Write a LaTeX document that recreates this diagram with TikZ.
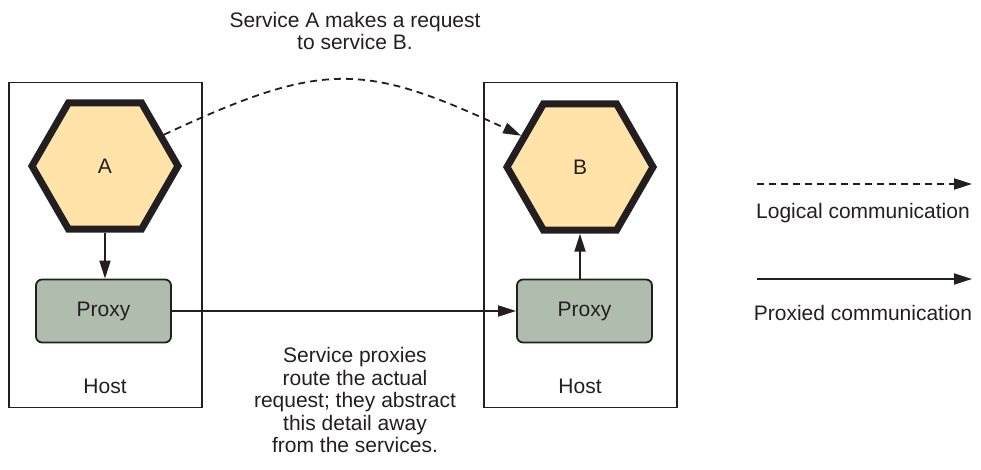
\documentclass[tikz,border=0pt]{standalone}
\usepackage{fontspec}
\setmainfont{Liberation Sans}
\usetikzlibrary{shapes.geometric, arrows.meta, positioning}

\definecolor{hexfill}{HTML}{FFE3A8}
\definecolor{proxyfill}{HTML}{B0BDAE}
\definecolor{ink}{HTML}{231F20}

\begin{document}
\begin{tikzpicture}[
  x=1pt, y=1pt,
  font=\fontsize{21}{22.5}\selectfont,
  >={Triangle[length=18pt, width=11pt]},
  proxied/.style={->, line width=1.8pt, draw=ink},
  logical/.style={->, line width=1.8pt, draw=ink, dash pattern=on 7pt off 5pt},
  host/.style={draw=ink, line width=1.8pt, minimum width=193pt, minimum height=325pt, inner sep=0pt},
  service/.style={regular polygon, regular polygon sides=6, draw=ink, fill=hexfill,
    line width=7pt, minimum size=146pt, inner sep=0pt, text=ink},
  proxy/.style={draw=ink, fill=proxyfill, rounded corners=6pt, line width=1.8pt,
    minimum width=135pt, minimum height=63pt, inner sep=0pt, text=ink},
  note/.style={align=center, text=ink, inner sep=0pt}
]
  \useasboundingbox (0,0) rectangle (981,-470);

  % --- Hôtes ---
  \node[host] (hostA) at (105.5,-245) {};
  \node[host] (hostB) at (580.5,-245) {};
  \node[note] (hostAlbl) at (105,-386) {Host};
  \node[note] (hostBlbl) at (580,-386) {Host};

  % --- Services ---
  \node[service] (A) at (105,-166) {A};
  \node[service] (B) at (580,-167) {B};

  % --- Proxies ---
  \node[proxy] (proxyA) at (103.5,-311) {Proxy};
  \node[proxy] (proxyB) at (584.5,-311) {Proxy};

  % --- Textes ---
  \node[note] (reqNote) at (355,-31) {Service A makes a request\\to service B.};
  \node[note] (routeNote) at (355,-400) {Service proxies\\route the actual\\request; they abstract\\this detail away\\from the services.};

  % --- Légende ---
  \coordinate (logS) at (757,-184);
  \coordinate (logE) at (972,-184);
  \coordinate (proS) at (757,-279);
  \coordinate (proE) at (972,-279);
  \node[note] (logLbl) at (863,-213) {Logical communication};
  \node[note] (proLbl) at (863,-313) {Proxied communication};

  % --- Liens ---
  \draw[logical] (A.28) to[out=25, in=155, looseness=1.25] (B.152);
  \draw[proxied] (A.south) -- (proxyA.north -| A.south);
  \draw[proxied] (proxyA.east) -- (proxyB.west);
  \draw[proxied] (proxyB.north -| B.south) -- (B.south);
  \draw[logical] (logS) -- (logE);
  \draw[proxied] (proS) -- (proE);

\end{tikzpicture}
\end{document}
